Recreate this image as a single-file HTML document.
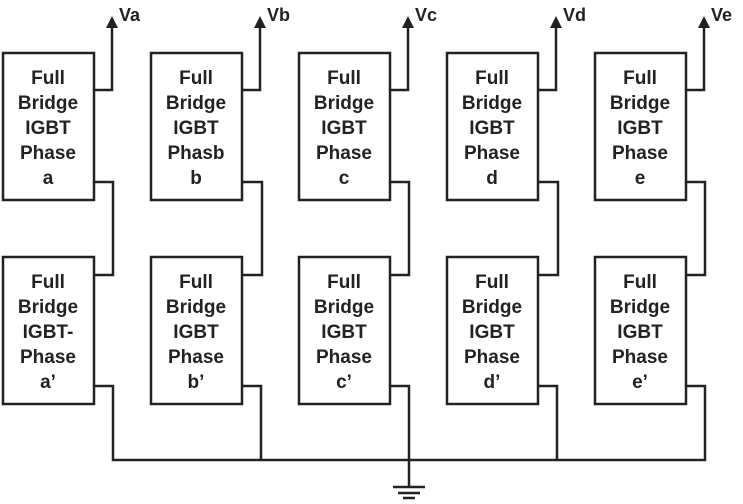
<!DOCTYPE html>
<html><head><style>
html,body{margin:0;padding:0;background:#fff;}
svg{display:block;}
text{font-family:"Liberation Sans",Arial,sans-serif;font-weight:bold;fill:#222;}
</style></head><body>
<svg width="743" height="504" viewBox="0 0 743 504" xmlns="http://www.w3.org/2000/svg">
<g fill="none" stroke="#222" stroke-width="2.5">
<rect x="3" y="53" width="91" height="147"/><rect x="3" y="257" width="91" height="147"/>
<rect x="151" y="53" width="91" height="147"/><rect x="151" y="257" width="91" height="147"/>
<rect x="299" y="53" width="91" height="147"/><rect x="299" y="257" width="91" height="147"/>
<rect x="447" y="53" width="91" height="147"/><rect x="447" y="257" width="91" height="147"/>
<rect x="595" y="53" width="91" height="147"/><rect x="595" y="257" width="91" height="147"/>
<polyline points="94,90 112,90 112,26"/>
<polyline points="242,90 260,90 260,26"/>
<polyline points="390,90 408,90 408,26"/>
<polyline points="538,90 556,90 556,26"/>
<polyline points="686,90 704,90 704,26"/>
<polyline points="94,182 113,182 113,275 94,275"/>
<polyline points="242,182 262,182 262,275 242,275"/>
<polyline points="390,182 409,182 409,275 390,275"/>
<polyline points="538,182 558,182 558,275 538,275"/>
<polyline points="686,182 705,182 705,275 686,275"/>
<polyline points="94,386 113,386 113,460 705,460 705,386 686,386"/>
<polyline points="242,386 261,386 261,460"/>
<polyline points="390,386 409,386 409,487"/>
<polyline points="538,386 557,386 557,460"/>
<line x1="393" y1="487" x2="425" y2="487"/>
<line x1="398" y1="493" x2="420" y2="493"/>
<line x1="403" y1="498" x2="415" y2="498"/>
</g>
<g fill="#222">
<polygon points="112,16 106,28 118,28"/>
<polygon points="260,16 254,28 266,28"/>
<polygon points="408,16 402,28 414,28"/>
<polygon points="556,16 550,28 562,28"/>
<polygon points="704,16 698,28 710,28"/>
</g>
<g font-size="18">
<text x="119" y="21">Va</text>
<text x="267" y="21">Vb</text>
<text x="415" y="21">Vc</text>
<text x="563" y="21">Vd</text>
<text x="711" y="21">Ve</text>
</g>
<g font-size="19" text-anchor="middle">
<text x="48" y="84">Full</text><text x="48" y="109">Bridge</text><text x="48" y="134">IGBT</text><text x="48" y="159">Phase</text><text x="48" y="184">a</text>
<text x="196" y="84">Full</text><text x="196" y="109">Bridge</text><text x="196" y="134">IGBT</text><text x="196" y="159">Phasb</text><text x="196" y="184">b</text>
<text x="344" y="84">Full</text><text x="344" y="109">Bridge</text><text x="344" y="134">IGBT</text><text x="344" y="159">Phase</text><text x="344" y="184">c</text>
<text x="492" y="84">Full</text><text x="492" y="109">Bridge</text><text x="492" y="134">IGBT</text><text x="492" y="159">Phase</text><text x="492" y="184">d</text>
<text x="640" y="84">Full</text><text x="640" y="109">Bridge</text><text x="640" y="134">IGBT</text><text x="640" y="159">Phase</text><text x="640" y="184">e</text>
<text x="48" y="288">Full</text><text x="48" y="313">Bridge</text><text x="48" y="338">IGBT-</text><text x="48" y="363">Phase</text><text x="48" y="388">a’</text>
<text x="196" y="288">Full</text><text x="196" y="313">Bridge</text><text x="196" y="338">IGBT</text><text x="196" y="363">Phase</text><text x="196" y="388">b’</text>
<text x="344" y="288">Full</text><text x="344" y="313">Bridge</text><text x="344" y="338">IGBT</text><text x="344" y="363">Phase</text><text x="344" y="388">c’</text>
<text x="492" y="288">Full</text><text x="492" y="313">Bridge</text><text x="492" y="338">IGBT</text><text x="492" y="363">Phase</text><text x="492" y="388">d’</text>
<text x="640" y="288">Full</text><text x="640" y="313">Bridge</text><text x="640" y="338">IGBT</text><text x="640" y="363">Phase</text><text x="640" y="388">e’</text>
</g>
</svg>
</body></html>
